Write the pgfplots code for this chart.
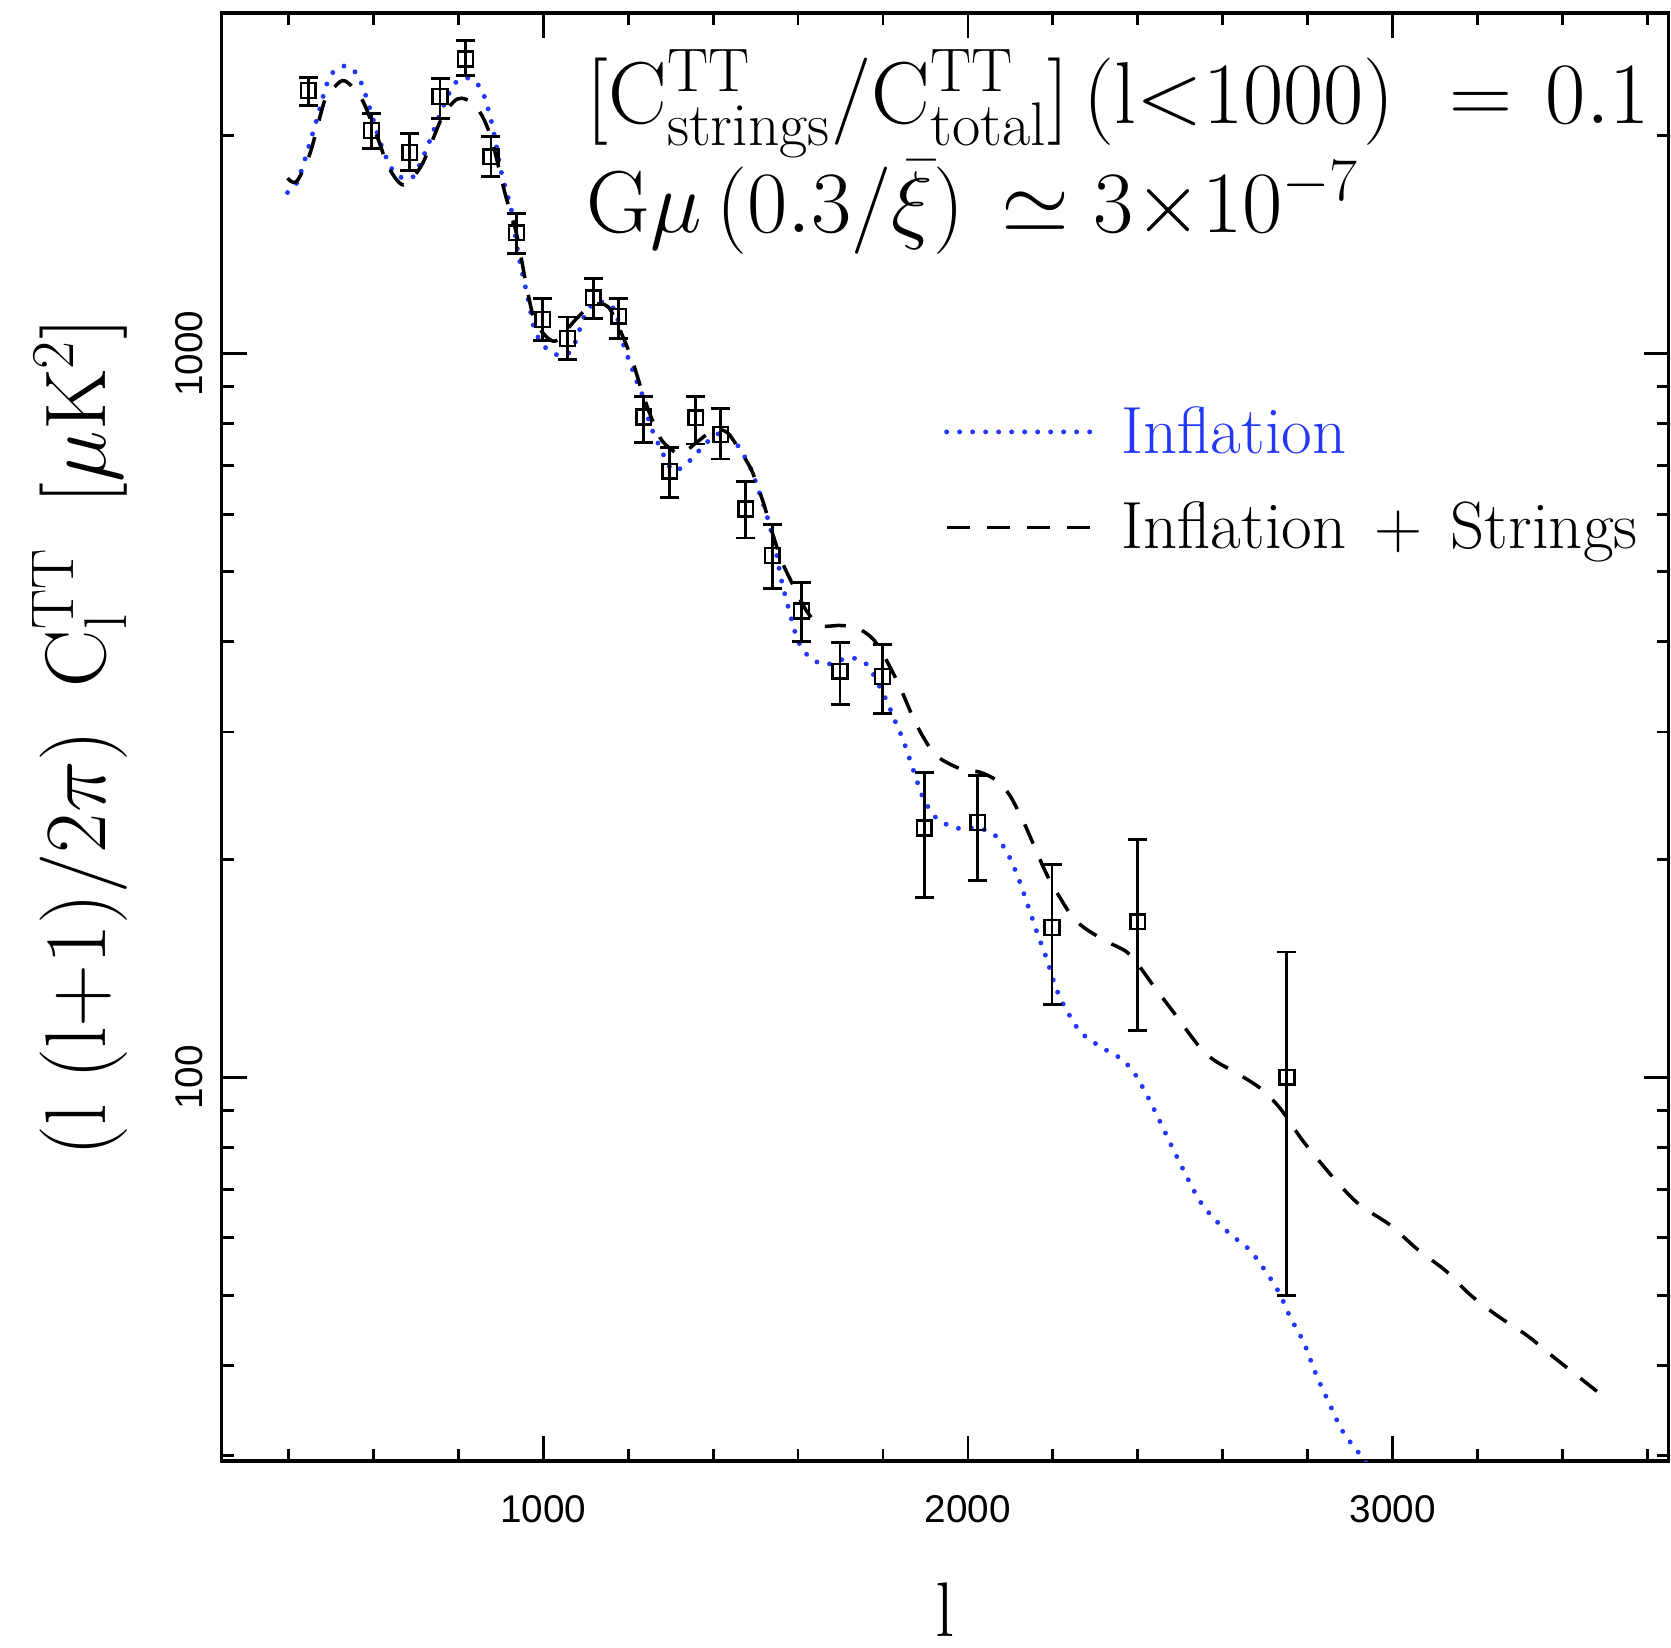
\documentclass[border=0pt]{standalone}
\usepackage{fontspec}
\usepackage{pgfplots}
\usepackage{pgfplotstable}
\pgfplotsset{compat=1.18}
\newfontfamily\ticksf{Liberation Sans}
\definecolor{infblue}{RGB}{35,55,250}

% binned data: l, value, error up, error down
\pgfplotstableread{
l v ep em
447 2309 100 110
596 2033 115 112
686 1895 121 106
757 2266 136 151
817 2552 153 132
877 1871 123 116
937 1469 93 94
999 1114 77 71
1057 1049 74 67
1118 1194 76 76
1178 1126 65 77
1237 817 56 63
1298 688 53 56
1359 815 58 65
1418 773 66 58
1477 610 56 54
1539 526 54 52
1608 441 42 41
1699 364 35 37
1799 358 38 40
1897 221 43 44
2023 225 36 38
2198 161 36 35
2400 164 49 48
2751 100 49 50
}\bins

% inflation + strings
\pgfplotstableread{
l v
398 1747
419 1728
451 1891
486 2242
510 2340
533 2381
572 2253
612 1973
635 1813
671 1710
714 1822
761 2115
790 2230
808 2253
830 2225
855 2137
879 1973
910 1665
937 1465
961 1236
980 1112
1012 1049
1035 1045
1075 1112
1114 1166
1153 1160
1188 1054
1212 969
1232 889
1251 826
1279 759
1322 727
1361 754
1400 783
1432 779
1463 735
1491 689
1518 623
1538 569
1561 518
1585 483
1620 441
1652 421
1699 421
1738 418
1777 403
1809 376
1840 346
1871 314
1895 295
1926 278
1981 267
2028 264
2068 257
2099 245
2130 226
2154 210
2185 191
2217 177
2248 166
2280 160
2327 154
2374 149
2405 142
2436 134
2484 123
2523 114.5
2554 108.6
2586 105
2633 101.3
2688 96.6
2735 90.6
2790 81.5
2868 71.8
2923 66.6
2994 62.5
3056 58.0
3127 53.9
3182 50.1
3245 46.9
3316 44.0
3378 41.1
3449 38.1
3484 36.7
}\strings

% inflation only
\pgfplotstableread{
l v
398 1669
423 1737
462 2059
494 2389
515 2470
537 2497
560 2440
572 2363
588 2218
620 1932
651 1775
690 1747
721 1891
761 2171
792 2363
824 2402
855 2314
879 2081
902 1775
925 1579
941 1375
965 1185
980 1077
1004 1021
1035 995
1067 1011
1098 1130
1120 1175
1137 1179
1169 1148
1188 1033
1208 958
1216 928
1235 871
1251 800
1275 742
1306 689
1346 712
1385 754
1424 779
1455 751
1487 697
1510 640
1530 588
1546 540
1561 486
1581 437
1600 401
1628 380
1667 372
1722 380
1762 372
1785 353
1809 331
1832 307
1848 292
1875 262
1895 243
1926 228
1973 221
2021 221
2060 217
2091 205
2115 191
2138 175
2162 159
2185 146
2205 134
2225 126
2264 115.7
2311 110.3
2358 106.3
2389 101.9
2421 94.6
2452 86.9
2484 79.4
2523 71.4
2550 66.9
2586 63.2
2625 60.2
2664 57.7
2707 53.3
2735 50.1
2758 46.7
2790 43.1
2821 38.7
2853 35.2
2884 32.3
2931 29.7
2960 28.0
}\inflation

\begin{document}
\begin{tikzpicture}
\begin{axis}[
    scale only axis,
    width=14.47cm, height=14.48cm,
    xmin=243, xmax=3650,
    ymode=log, ymin=29.5, ymax=2955,
    axis line style={line width=0.9pt},
    tick pos=both, tick align=inside,
    xtick={1000,2000,3000}, xticklabels={1000,2000,3000},
    minor xtick={400,600,800,1200,1400,1600,1800,2200,2400,2600,2800,3200,3400,3600},
    ytick={100,1000}, yticklabels={100,1000},
    minor ytick={30,40,50,60,70,80,90,200,300,400,500,600,700,800,900,2000},
    major tick length=0.25cm, minor tick length=0.12cm,
    tick style={black, line width=0.8pt},
    tick label style={font=\ticksf\fontsize{11}{13}\selectfont},
    xticklabel style={anchor=center, yshift=-0.48cm},
    yticklabel style={anchor=center, xshift=-0.327cm, rotate=90},
    xlabel={$\mathrm{l}$},
    xlabel style={at={(axis description cs:0.5,-0.103)}, anchor=center, font=\fontsize{22}{26}\selectfont},
    ylabel={$(\mathrm{l}\;(\mathrm{l}{+}1)/2\pi)\hspace{0.5em}\mathrm{C}_{\mathrm{l}}^{\mathrm{TT}}\hspace{0.5em}[\mu\mathrm{K}^{2}]$},
    ylabel style={at={(axis description cs:-0.0981,0.5)}, anchor=center, font=\fontsize{24.5}{29}\selectfont},
]
\addplot[infblue, line width=1.4pt, line cap=round, dash pattern=on 0pt off 0.13cm, smooth, tension=0.5]
    table[x=l, y=v] {\inflation};
\addplot[black, line width=1.0pt, dash pattern=on 0.21cm off 0.17cm, smooth, tension=0.5]
    table[x=l, y=v] {\strings};
\addplot[black, only marks, mark=square, mark size=2.1pt, mark options={line width=0.7pt},
    error bars/.cd, y dir=both, y explicit,
    error bar style={line width=0.8pt},
    error mark=-,
    error mark options={rotate=90, mark size=0.095cm, line width=0.8pt}]
    table[x=l, y=v, y error plus=ep, y error minus=em] {\bins};

\node[anchor=base west, inner sep=0pt, font=\fontsize{25}{30}\selectfont]
    at (rel axis cs:0.2517,0.9236)
    {$[\mathrm{C}^{\mathrm{TT}}_{\mathrm{strings}}/\mathrm{C}^{\mathrm{TT}}_{\mathrm{total}}]\,(\mathrm{l}{<}1000)\hspace{0.35em}=\hspace{0.1em}0.1$};
\node[anchor=base west, inner sep=0pt, font=\fontsize{25}{30}\selectfont]
    at (rel axis cs:0.2517,0.8486)
    {$\mathrm{G}\mu\,(0.3/\bar{\xi})\hspace{0.15em}\simeq 3{\times}10^{-7}$};

% legend
\draw[infblue, line width=1.4pt, line cap=round, dash pattern=on 0pt off 0.13cm]
    (rel axis cs:0.501,0.7107) -- (rel axis cs:0.602,0.7107);
\node[anchor=base west, inner sep=0pt, font=\fontsize{19}{23}\selectfont, text=infblue]
    at (rel axis cs:0.6213,0.6961) {Inflation};
\draw[black, line width=1.0pt, dash pattern=on 0.23cm off 0.17cm]
    (rel axis cs:0.501,0.6447) -- (rel axis cs:0.602,0.6447);
\node[anchor=base west, inner sep=0pt, font=\fontsize{19}{23}\selectfont]
    at (rel axis cs:0.6213,0.6305) {Inflation\hspace{8pt}+\hspace{8pt}Strings};
\end{axis}
\pgfresetboundingbox
\path[use as bounding box] (-2.217,-1.86) rectangle (14.493,14.61);
\end{tikzpicture}
\end{document}
